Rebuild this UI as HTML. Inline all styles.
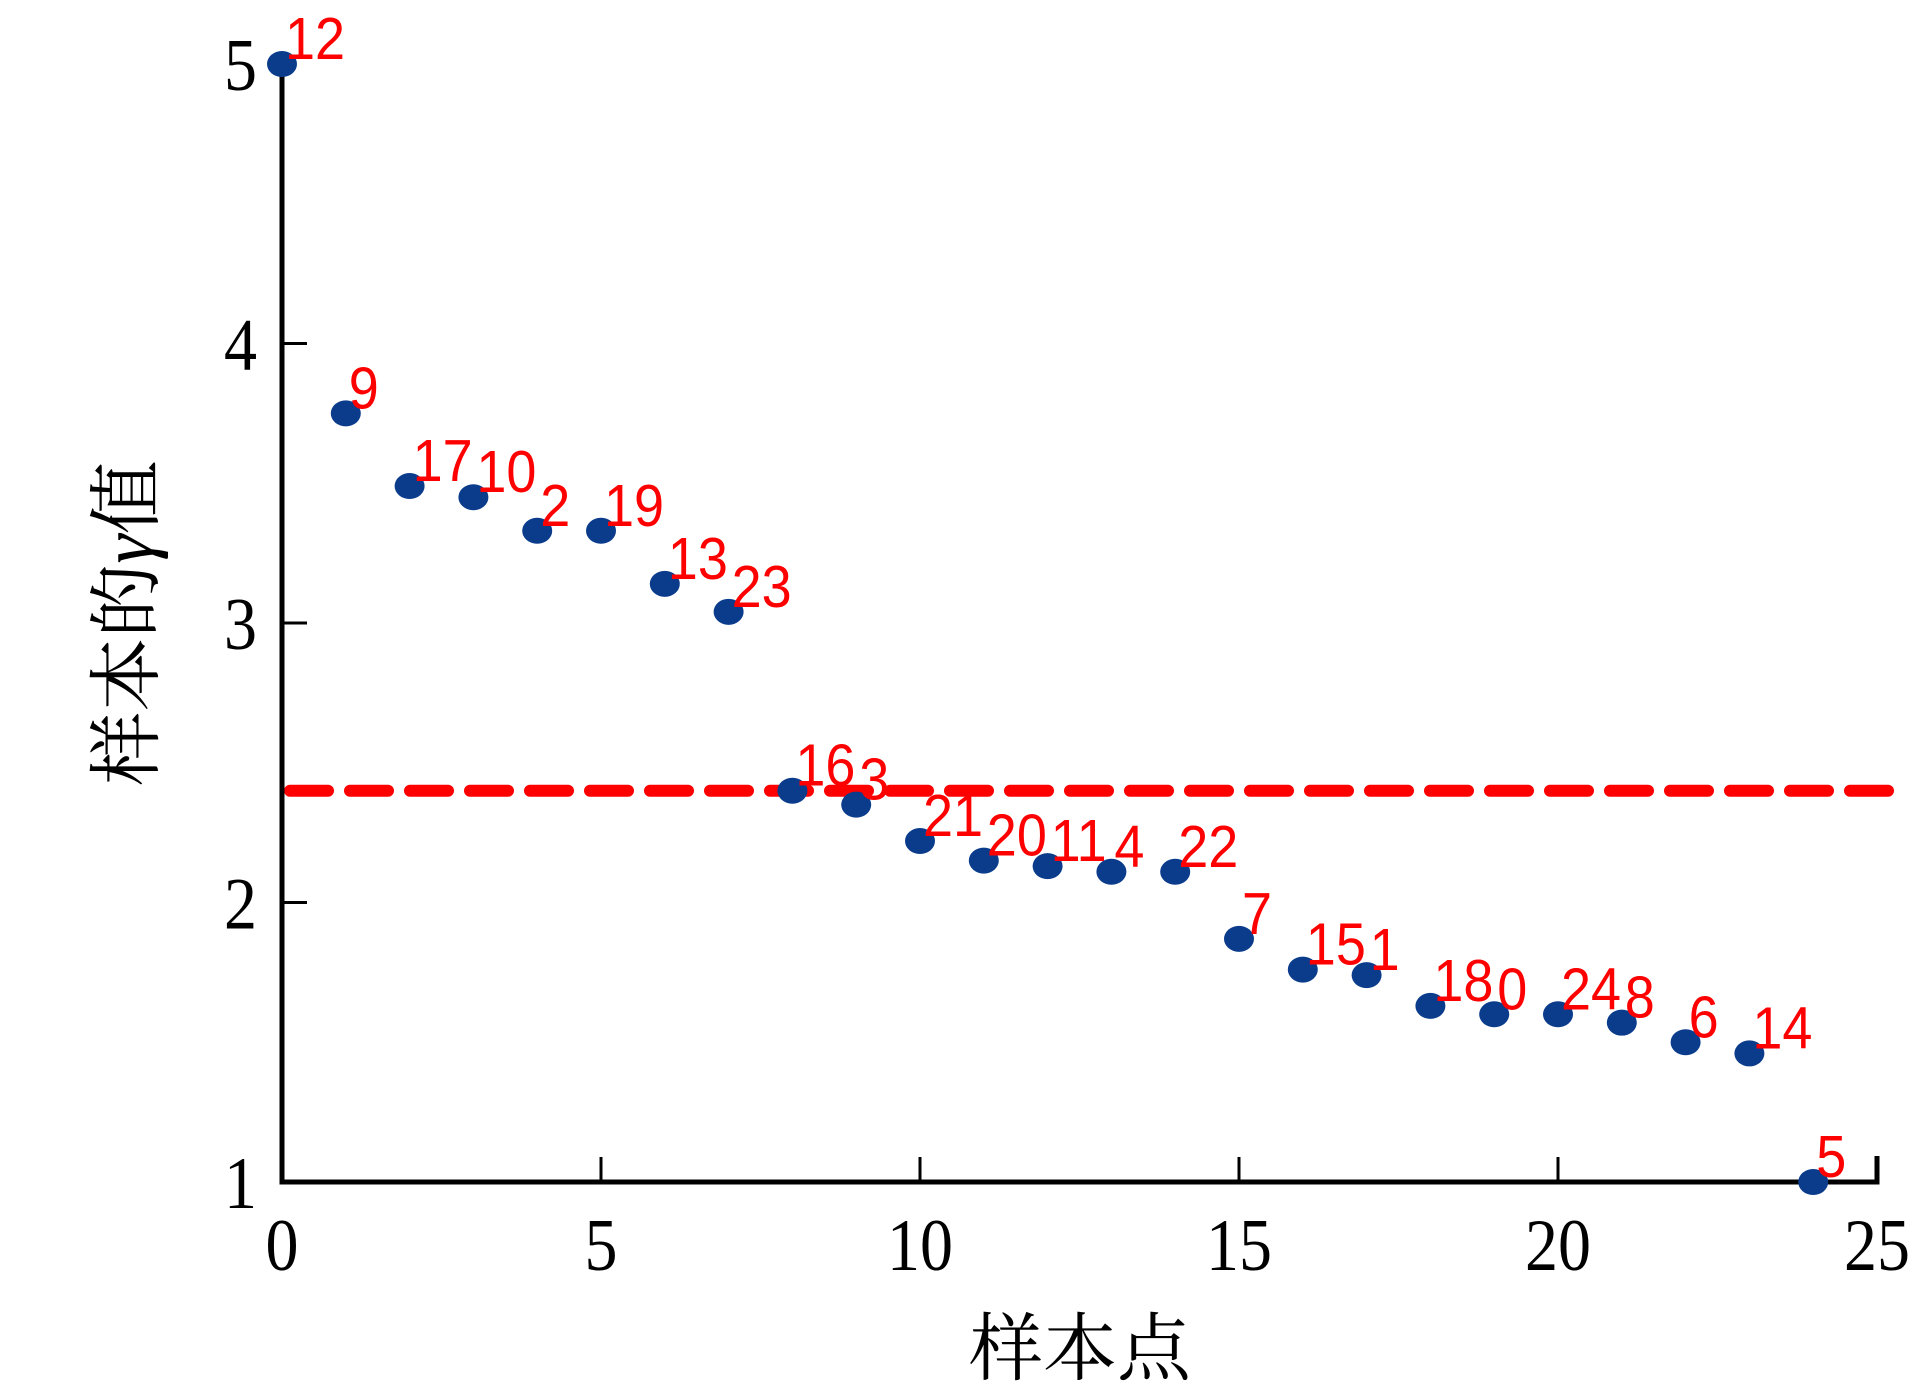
<!DOCTYPE html>
<html><head><meta charset="utf-8"><style>
html,body{margin:0;padding:0;background:#fff;}
svg{display:block;}
</style></head><body>
<svg id="chart" width="1932" height="1391" viewBox="0 0 1932 1391" xmlns="http://www.w3.org/2000/svg">
<g id="plot"></g>
</svg>
<script>
const sampleIndex = [0,1,2,3,4,5,6,7,8,9,10,11,12,13,14,15,16,17,18,19,20,21,22,23,24];
const gammaValues = [5.0,3.75,3.49,3.45,3.33,3.33,3.14,3.04,2.40,2.35,2.22,2.15,2.13,2.11,2.11,1.87,1.76,1.74,1.63,1.60,1.60,1.57,1.50,1.46,1.0];
const pointLabels = ["12","9","17","10","2","19","13","23","16","3","21","20","11","4","22","7","15","1","18","0","24","8","6","14","5"];
const thresholdValue = [2.4];
const xTicks = [0,5,10,15,20,25];
const yTicks = [1,2,3,4,5];

const NS='http://www.w3.org/2000/svg';
const X0=282, X1=1877, Y1=1182, Y5=64;
function sx(v){return X0+(v-0)/(25-0)*(X1-X0);}
function sy(v){return Y1-(v-1)/(5-1)*(Y1-Y5);}
const g=document.getElementById('plot');
function mk(tag,attrs,parent){const e=document.createElementNS(NS,tag);for(const k in attrs)e.setAttribute(k,attrs[k]);(parent||g).appendChild(e);return e;}

thresholdValue.forEach(t=>{
  const l=mk('line',{x1:X0+8,x2:1888,y1:sy(t),y2:sy(t),stroke:'#ff0000','stroke-width':12,'stroke-dasharray':'38 22','stroke-linecap':'round'});
  
  
});

const ax=mk('path',{d:`M${X0} ${Y5} L${X0} ${Y1} L${X1} ${Y1} L${X1} ${Y1-26}`,fill:'none',stroke:'#000','stroke-width':5});



xTicks.forEach(t=>{
  const x=sx(t);
  if(t>0&&t<25){const tk=mk('line',{x1:x,x2:x,y1:Y1,y2:Y1-25,stroke:'#000','stroke-width':3});
  
  }
  const tx=mk('text',{x:0,y:0,'text-anchor':'middle','font-family':'Liberation Serif, serif','font-size':66,fill:'#000',transform:`translate(${x},${1270}) scale(1,1.12)`});
  tx.textContent=t;
  
  
});
yTicks.forEach(t=>{
  const y=sy(t);
  if(t<5){const tk=mk('line',{x1:X0,x2:X0+25,y1:y,y2:y,stroke:'#000','stroke-width':3});
  
  }
  const tx=mk('text',{x:0,y:0,'text-anchor':'end','font-family':'Liberation Serif, serif','font-size':66,fill:'#000',transform:`translate(257,${y+26}) scale(1,1.12)`});
  tx.textContent=t;
  
  
});

sampleIndex.forEach((i,k)=>{
  const cx=sx(i), cy=sy(gammaValues[k]);
  const c=mk('ellipse',{cx:cx,cy:cy,rx:15,ry:13,fill:'#0b3c8c'});
  
  
});
sampleIndex.forEach((i,k)=>{
  const cx=sx(i), cy=sy(gammaValues[k]);
  const t=mk('text',{x:0,y:0,'font-family':'Liberation Sans, sans-serif','font-size':54,fill:'#ff0000',transform:`translate(${cx+3},${cy-5}) scale(1,1.1)`});
  t.textContent=pointLabels[k];
  
  
});

const xt=mk('text',{x:1080,y:1374,'text-anchor':'middle','font-family':'Liberation Serif, Noto Serif CJK SC, serif','font-size':74,fill:'#000'});
xt.textContent='样本点';



const yt=mk('text',{x:0,y:0,'text-anchor':'middle','font-family':'Liberation Serif, Noto Serif CJK SC, serif','font-size':74,fill:'#000',transform:'translate(152,623) rotate(-90)'});


const s1=document.createElementNS(NS,'tspan');s1.textContent='样本的';yt.appendChild(s1);
const s2=document.createElementNS(NS,'tspan');s2.setAttribute('font-style','italic');s2.textContent='γ';yt.appendChild(s2);
const s3=document.createElementNS(NS,'tspan');s3.textContent='值';yt.appendChild(s3);
</script>
</body></html>
